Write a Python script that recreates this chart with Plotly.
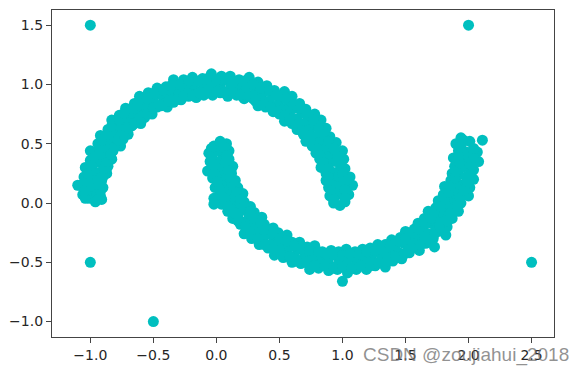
import plotly.graph_objects as go

# Upper moon points (x, y)
upper_moon = [
    (-0.91, 0.03), (-0.96, 0.01), (-1.01, 0.04), (-1.05, 0.08),
    (-0.92, 0.06), (-0.98, 0.07), (-1.03, 0.07), (-1.06, 0.07), (-1.10, 0.15),
    (-0.90, 0.13), (-0.96, 0.14), (-1.00, 0.14), (-1.08, 0.15),
    (-0.91, 0.19), (-0.97, 0.21), (-1.02, 0.22), (-1.05, 0.22),
    (-0.87, 0.25), (-0.92, 0.26), (-0.98, 0.28), (-1.04, 0.30),
    (-0.86, 0.31), (-0.92, 0.34), (-0.97, 0.35), (-1.00, 0.36),
    (-0.83, 0.37), (-0.89, 0.39), (-0.92, 0.41), (-1.00, 0.44),
    (-0.82, 0.44), (-0.87, 0.46), (-0.92, 0.49), (-0.94, 0.50),
    (-0.76, 0.48), (-0.81, 0.51), (-0.86, 0.54), (-0.92, 0.57),
    (-0.74, 0.54), (-0.79, 0.58), (-0.83, 0.61), (-0.86, 0.62),
    (-0.70, 0.58), (-0.74, 0.62), (-0.77, 0.65), (-0.83, 0.70),
    (-0.67, 0.65), (-0.71, 0.69), (-0.75, 0.72), (-0.77, 0.74),
    (-0.60, 0.67), (-0.64, 0.71), (-0.68, 0.76), (-0.72, 0.80),
    (-0.57, 0.72), (-0.60, 0.77), (-0.63, 0.81), (-0.65, 0.84),
    (-0.51, 0.75), (-0.54, 0.80), (-0.56, 0.84), (-0.61, 0.90),
    (-0.47, 0.81), (-0.50, 0.86), (-0.52, 0.90), (-0.54, 0.93),
    (-0.39, 0.81), (-0.42, 0.86), (-0.45, 0.92), (-0.47, 0.97),
    (-0.34, 0.85), (-0.37, 0.91), (-0.39, 0.95), (-0.40, 0.98),
    (-0.28, 0.87), (-0.30, 0.92), (-0.31, 0.96), (-0.34, 1.04),
    (-0.22, 0.90), (-0.24, 0.96), (-0.25, 1.01), (-0.26, 1.04),
    (-0.16, 0.89), (-0.17, 0.95), (-0.18, 1.00), (-0.19, 1.06),
    (-0.10, 0.91), (-0.10, 0.97), (-0.11, 1.02), (-0.11, 1.05),
    (-0.03, 0.91), (-0.03, 0.97), (-0.04, 1.01), (-0.04, 1.09),
    (0.03, 0.93), (0.03, 0.99), (0.04, 1.04), (0.04, 1.07),
    (0.09, 0.90), (0.10, 0.95), (0.11, 1.01), (0.11, 1.07),
    (0.16, 0.91), (0.17, 0.97), (0.18, 1.01), (0.18, 1.04),
    (0.22, 0.88), (0.23, 0.94), (0.24, 0.98), (0.26, 1.06),
    (0.29, 0.88), (0.31, 0.94), (0.32, 0.99), (0.33, 1.02),
    (0.33, 0.82), (0.36, 0.88), (0.38, 0.94), (0.40, 0.99),
    (0.39, 0.81), (0.42, 0.86), (0.45, 0.92), (0.46, 0.95),
    (0.45, 0.77), (0.48, 0.82), (0.50, 0.87), (0.54, 0.94),
    (0.50, 0.75), (0.54, 0.80), (0.58, 0.85), (0.60, 0.90),
    (0.54, 0.69), (0.58, 0.75), (0.62, 0.80), (0.66, 0.84),
    (0.60, 0.67), (0.64, 0.71), (0.68, 0.76), (0.71, 0.79),
    (0.64, 0.62), (0.68, 0.66), (0.72, 0.69), (0.78, 0.75),
    (0.69, 0.58), (0.74, 0.62), (0.79, 0.66), (0.83, 0.70),
    (0.71, 0.52), (0.77, 0.56), (0.82, 0.59), (0.87, 0.63),
    (0.76, 0.48), (0.81, 0.51), (0.86, 0.54), (0.90, 0.56),
    (0.79, 0.42), (0.84, 0.45), (0.88, 0.47), (0.95, 0.51),
    (0.82, 0.37), (0.89, 0.39), (0.94, 0.42), (1.00, 0.44),
    (0.83, 0.30), (0.89, 0.32), (0.95, 0.35), (1.01, 0.37),
    (0.87, 0.25), (0.92, 0.26), (0.98, 0.28), (1.02, 0.29),
    (0.87, 0.19), (0.93, 0.20), (0.98, 0.21), (1.06, 0.22),
    (0.89, 0.13), (0.96, 0.14), (1.02, 0.14), (1.08, 0.15),
    (0.90, 0.06), (0.96, 0.07), (1.01, 0.07), (1.05, 0.07),
    (0.93, 0.00), (0.98, -0.02), (1.02, 0.01),
]

# More upper moon points that fill the band
upper_moon_fill = [
    (-0.94, 0.03), (-1.04, 0.04), (-0.92, 0.10), (-1.04, 0.11),
    (-0.93, 0.16), (-1.02, 0.18), (-0.90, 0.22), (-1.02, 0.25),
    (-0.89, 0.29), (-0.99, 0.32), (-0.86, 0.35), (-0.97, 0.39),
    (-0.84, 0.41), (-0.93, 0.46), (-0.81, 0.47), (-0.91, 0.53),
    (-0.78, 0.53), (-0.86, 0.58), (-0.73, 0.57), (-0.83, 0.65),
    (-0.70, 0.63), (-0.77, 0.70), (-0.65, 0.67), (-0.73, 0.76),
    (-0.60, 0.72), (-0.67, 0.80), (-0.55, 0.75), (-0.62, 0.85),
    (-0.50, 0.80), (-0.55, 0.88), (-0.44, 0.82), (-0.49, 0.93),
    (-0.38, 0.86), (-0.42, 0.95), (-0.32, 0.87), (-0.36, 0.99),
    (-0.26, 0.90), (-0.29, 1.00), (-0.19, 0.91), (-0.22, 1.03),
    (-0.13, 0.93), (-0.14, 1.03), (-0.06, 0.93), (-0.07, 1.05),
    (0.00, 0.94), (0.00, 1.04), (0.06, 0.93), (0.07, 1.05),
    (0.13, 0.93), (0.14, 1.03), (0.19, 0.91), (0.22, 1.03),
    (0.26, 0.90), (0.29, 1.00), (0.31, 0.86), (0.35, 0.97),
    (0.37, 0.83), (0.42, 0.95), (0.43, 0.81), (0.48, 0.91),
    (0.48, 0.77), (0.55, 0.88), (0.54, 0.74), (0.61, 0.83),
    (0.58, 0.70), (0.67, 0.80), (0.64, 0.66), (0.72, 0.74),
    (0.68, 0.61), (0.77, 0.70), (0.72, 0.57), (0.81, 0.63),
    (0.75, 0.51), (0.86, 0.58), (0.80, 0.46), (0.89, 0.52),
    (0.82, 0.40), (0.93, 0.46), (0.85, 0.34), (0.96, 0.39),
    (0.87, 0.28), (0.99, 0.32), (0.89, 0.22), (1.00, 0.25),
    (0.90, 0.16), (1.02, 0.18), (0.91, 0.10), (1.02, 0.11),
    (0.93, 0.03), (1.02, 0.04),
]

# Lower moon points (x, y)
lower_moon = [
    (0.08, 0.50), (0.03, 0.52), (-0.02, 0.48), (0.05, 0.45),
    (0.10, 0.44), (0.04, 0.43), (-0.02, 0.43), (-0.06, 0.42),
    (0.10, 0.37), (0.04, 0.36), (-0.02, 0.36), (-0.05, 0.35),
    (0.13, 0.31), (0.07, 0.30), (0.02, 0.29), (-0.07, 0.27),
    (0.12, 0.25), (0.06, 0.23), (0.00, 0.21), (-0.03, 0.21),
    (0.15, 0.19), (0.10, 0.17), (0.04, 0.15), (-0.01, 0.13),
    (0.17, 0.13), (0.11, 0.11), (0.06, 0.08), (0.03, 0.07),
    (0.21, 0.08), (0.16, 0.05), (0.12, 0.03), (0.04, -0.01),
    (-0.02, 0.04), (-0.02, -0.01),
    (0.22, 0.01), (0.17, -0.02), (0.12, -0.05), (0.09, -0.07),
    (0.27, -0.03), (0.22, -0.06), (0.17, -0.10), (0.13, -0.13),
    (0.30, -0.08), (0.26, -0.12), (0.21, -0.16), (0.19, -0.18),
    (0.36, -0.12), (0.32, -0.16), (0.28, -0.19), (0.22, -0.26),
    (0.38, -0.18), (0.34, -0.23), (0.30, -0.27), (0.28, -0.30),
    (0.45, -0.21), (0.41, -0.26), (0.37, -0.30), (0.34, -0.35),
    (0.49, -0.25), (0.46, -0.30), (0.42, -0.35), (0.41, -0.38),
    (0.56, -0.27), (0.53, -0.32), (0.50, -0.37), (0.46, -0.44),
    (0.60, -0.33), (0.57, -0.38), (0.54, -0.43), (0.53, -0.46),
    (0.66, -0.33), (0.64, -0.39), (0.62, -0.45), (0.60, -0.50),
    (0.72, -0.37), (0.70, -0.42), (0.68, -0.48), (0.67, -0.51),
    (0.78, -0.36), (0.77, -0.42), (0.76, -0.47), (0.74, -0.56),
    (0.84, -0.41), (0.83, -0.47), (0.82, -0.52), (0.81, -0.55),
    (0.91, -0.40), (0.90, -0.45), (0.89, -0.51), (0.89, -0.57),
    (0.97, -0.41), (0.97, -0.47), (0.96, -0.53), (0.96, -0.56),
    (1.03, -0.39), (1.03, -0.45), (1.03, -0.50), (1.04, -0.59),
    (1.00, -0.66),
    (1.10, -0.41), (1.10, -0.47), (1.11, -0.53), (1.11, -0.56),
    (1.16, -0.39), (1.17, -0.45), (1.18, -0.50), (1.19, -0.56),
    (1.22, -0.38), (1.23, -0.44), (1.25, -0.50), (1.26, -0.53),
    (1.28, -0.35), (1.29, -0.40), (1.31, -0.45), (1.34, -0.54),
    (1.34, -0.35), (1.37, -0.41), (1.39, -0.46), (1.40, -0.49),
    (1.39, -0.31), (1.42, -0.36), (1.45, -0.42), (1.47, -0.47),
    (1.46, -0.29), (1.49, -0.34), (1.52, -0.39), (1.53, -0.42),
    (1.50, -0.24), (1.53, -0.29), (1.56, -0.33), (1.61, -0.40),
    (1.57, -0.22), (1.60, -0.27), (1.64, -0.32), (1.66, -0.34),
    (1.60, -0.17), (1.64, -0.21), (1.68, -0.26), (1.72, -0.30),
    (1.65, -0.13), (1.70, -0.17), (1.74, -0.22), (1.76, -0.24),
    (1.82, -0.27), (1.73, -0.37),
    (1.68, -0.07), (1.73, -0.11), (1.77, -0.14), (1.83, -0.20),
    (1.74, -0.04), (1.79, -0.08), (1.84, -0.11), (1.87, -0.13),
    (1.76, 0.02), (1.81, -0.01), (1.86, -0.04), (1.92, -0.07),
    (1.80, 0.07), (1.86, 0.04), (1.91, 0.02), (1.94, 0.00),
    (1.81, 0.14), (1.87, 0.11), (1.91, 0.09), (2.00, 0.06),
    (1.86, 0.19), (1.92, 0.16), (1.98, 0.14), (2.01, 0.13),
    (1.87, 0.25), (1.92, 0.24), (1.98, 0.22), (2.04, 0.20),
    (1.89, 0.31), (1.95, 0.30), (2.01, 0.29), (2.04, 0.28),
    (1.88, 0.38), (1.94, 0.37), (1.99, 0.36), (2.08, 0.35),
    (1.92, 0.44), (1.98, 0.43), (2.04, 0.43), (2.07, 0.43),
    (1.90, 0.50), (1.96, 0.53), (2.01, 0.52), (1.94, 0.55),
    (2.11, 0.53),
]

# More lower moon points that fill the band
lower_moon_fill = [
    (0.06, 0.47), (-0.04, 0.46), (0.08, 0.40), (-0.04, 0.39),
    (0.07, 0.34), (-0.02, 0.32), (0.10, 0.27), (-0.02, 0.25),
    (0.11, 0.21), (0.01, 0.18), (0.14, 0.15), (0.03, 0.11),
    (0.16, 0.09), (0.07, 0.04), (0.19, 0.03), (0.09, -0.03),
    (0.22, -0.03), (0.14, -0.08), (0.27, -0.07), (0.17, -0.15),
    (0.30, -0.13), (0.23, -0.20), (0.35, -0.17), (0.27, -0.26),
    (0.40, -0.22), (0.33, -0.30), (0.45, -0.25), (0.38, -0.35),
    (0.50, -0.30), (0.45, -0.38), (0.56, -0.32), (0.51, -0.43),
    (0.62, -0.36), (0.58, -0.45), (0.68, -0.37), (0.64, -0.49),
    (0.74, -0.40), (0.71, -0.50), (0.81, -0.41), (0.78, -0.53),
    (0.87, -0.43), (0.86, -0.53), (0.94, -0.43), (0.93, -0.55),
    (1.00, -0.44), (1.00, -0.54), (1.06, -0.43), (1.07, -0.55),
    (1.13, -0.43), (1.14, -0.53), (1.19, -0.41), (1.22, -0.53),
    (1.26, -0.40), (1.29, -0.50), (1.32, -0.37), (1.36, -0.49),
    (1.38, -0.36), (1.42, -0.45), (1.44, -0.32), (1.49, -0.43),
    (1.50, -0.30), (1.55, -0.38), (1.55, -0.25), (1.62, -0.35),
    (1.60, -0.22), (1.67, -0.30), (1.65, -0.17), (1.73, -0.26),
    (1.70, -0.13), (1.77, -0.20), (1.73, -0.07), (1.83, -0.15),
    (1.78, -0.03), (1.86, -0.08), (1.81, 0.04), (1.91, -0.03),
    (1.84, 0.09), (1.93, 0.04), (1.86, 0.15), (1.97, 0.11),
    (1.89, 0.21), (1.99, 0.18), (1.90, 0.27), (2.02, 0.25),
    (1.93, 0.34), (2.02, 0.32), (1.92, 0.40), (2.04, 0.39),
    (1.94, 0.47), (2.04, 0.46),
]

# Added outlier points
outliers_x = [-1.0, 2.0, -1.0, -0.5, 2.5]
outliers_y = [1.5, 1.5, -0.5, -1.0, -0.5]

moon_points = upper_moon + upper_moon_fill + lower_moon + lower_moon_fill
all_x = [p[0] for p in moon_points] + outliers_x
all_y = [p[1] for p in moon_points] + outliers_y

color = "#00BFBF"

fig = go.Figure()
fig.add_trace(go.Scatter(
    x=all_x, y=all_y, mode="markers",
    marker=dict(color=color, size=11, line=dict(width=0)),
    showlegend=False, hoverinfo="skip",
))

axis_common = dict(
    showgrid=False, zeroline=False, showline=True, mirror=True,
    linecolor="#444444", linewidth=1.2,
    ticks="outside", ticklen=5, tickwidth=1.2, tickcolor="#444444",
    tickmode="linear", tick0=0, dtick=0.5, tickformat=".1f",
    tickfont=dict(family="DejaVu Sans", size=14, color="#262626"),
)

fig.update_layout(
    width=583, height=375,
    margin=dict(l=52, r=29, t=10, b=38, pad=0),
    paper_bgcolor="white", plot_bgcolor="white",
    xaxis=dict(range=[-1.304, 2.678], **axis_common),
    yaxis=dict(range=[-1.13, 1.628], **axis_common),
    annotations=[dict(
        text="CSDN @zoujiahui_2018", xref="paper", yref="paper",
        x=0.615, y=-0.056, xanchor="left", yanchor="middle",
        showarrow=False,
        font=dict(family="Liberation Sans", size=19, color="rgba(110,110,110,0.75)"),
    )],
)

fig.write_html("out.html")
